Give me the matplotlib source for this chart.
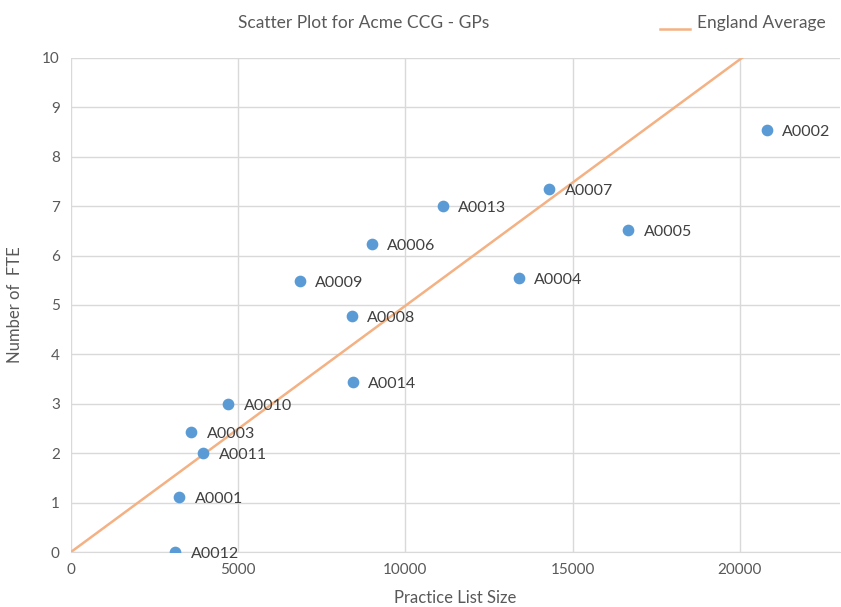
import numpy as np
import matplotlib.pyplot as plt

plt.rcParams['font.family'] = ['Lato', 'DejaVu Sans']

# practice data
practices = ['A0012', 'A0001', 'A0011', 'A0003', 'A0010', 'A0009', 'A0008',
             'A0014', 'A0006', 'A0013', 'A0007', 'A0004', 'A0005', 'A0002']
list_size = [3120, 3240, 3960, 3600, 4710, 6840, 8400,
             8430, 9000, 11120, 14300, 13400, 16670, 20810]
fte = [0.0, 1.11, 2.0, 2.43, 3.0, 5.49, 4.78,
       3.44, 6.23, 7.0, 7.35, 5.55, 6.52, 8.54]

# England average line
avg_x = [0, 20060]
avg_y = [0, 10]

grey = '#595959'
fig = plt.figure(figsize=(8.41, 6.07), dpi=100)
ax = fig.add_axes([0.0844, 0.0906, 0.9146, 0.8139])

ax.plot(avg_x, avg_y, color='#F4B183', lw=1.8, zorder=2)
ax.scatter(list_size, fte, s=55, color='#5B9BD5', zorder=3)
for name, x, y in zip(practices, list_size, fte):
    ax.annotate(name, (x, y), xytext=(11, -1.5), textcoords='offset points',
                va='center', ha='left', fontsize=11.5, color='#404040')

ax.set_xlim(0, 23000)
ax.set_ylim(0, 10)
ax.set_xticks([0, 5000, 10000, 15000, 20000])
ax.set_yticks(range(0, 11))
ax.grid(True, color='#D9D9D9', lw=1)
ax.set_axisbelow(True)
for s in ['top', 'right', 'left']:
    ax.spines[s].set_visible(False)
ax.spines['bottom'].set_color('#D9D9D9')
ax.tick_params(length=0, labelsize=11, colors=grey, pad=8)

ax.set_xlabel('Practice List Size', fontsize=12, color=grey, labelpad=9)
ax.set_ylabel('Number of  FTE', fontsize=12, color=grey, labelpad=14)

fig.text(0.432, 0.962, 'Scatter Plot for Acme CCG - GPs', ha='center',
         va='center', fontsize=12.5, color=grey)
fig.lines.append(plt.Line2D([0.785, 0.821], [0.952, 0.952], color='#F4B183',
                            lw=1.8, transform=fig.transFigure))
fig.text(0.829, 0.962, 'England Average', ha='left', va='center',
         fontsize=12.5, color=grey)

fig.savefig('out.png')
